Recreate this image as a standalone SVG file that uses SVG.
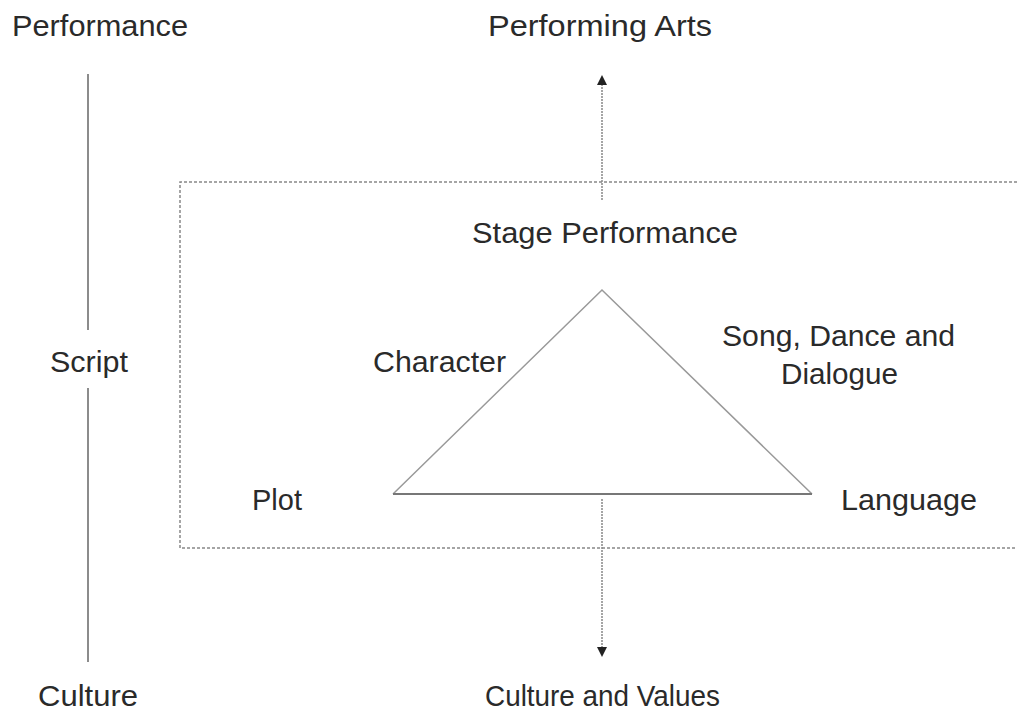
<svg xmlns="http://www.w3.org/2000/svg" width="1017" height="711" viewBox="0 0 1017 711">
<style>
text{font-family:"Liberation Sans",Arial,sans-serif;font-size:29px;fill:#2a2a2a}
.ln{stroke:#666;stroke-width:1.5;fill:none}
.tri{stroke:#999;stroke-width:1.5;fill:none}
.base{stroke:#777;stroke-width:2;fill:none}
.dash{stroke:#888;stroke-width:1.5;fill:none;stroke-dasharray:3 2}
.arr{stroke:#888;stroke-width:1.5;fill:none;stroke-dasharray:2 1}
</style>
<defs>
<marker id="ah" viewBox="0 0 10 10" refX="5" refY="5" markerWidth="10" markerHeight="10" markerUnits="userSpaceOnUse" orient="auto">
<path d="M0,0 L10,5 L0,10 Z" fill="#222"/>
</marker>
</defs>
<g id="axis">
<g id="n-performance"><text x="12" y="36" textLength="176" lengthAdjust="spacingAndGlyphs">Performance</text></g>
<g id="n-script"><text x="50" y="372" textLength="78" lengthAdjust="spacingAndGlyphs">Script</text></g>
<g id="n-culture"><text x="38" y="706" textLength="100" lengthAdjust="spacingAndGlyphs">Culture</text></g>
</g>
<g id="n-box"><path class="dash" d="M1017,182 H180 V548 H1017"/></g>
<g id="n-performing-arts"><text x="488" y="36" textLength="224" lengthAdjust="spacingAndGlyphs">Performing Arts</text></g>
<g id="n-stage"><text x="472" y="243" textLength="266" lengthAdjust="spacingAndGlyphs">Stage Performance</text></g>
<g id="n-triangle">
<path class="tri" d="M393,494 L602,290 L812,494"/>
<path class="base" d="M393,494 H812"/>
</g>
<g id="n-character"><text x="373" y="372" textLength="133" lengthAdjust="spacingAndGlyphs">Character</text></g>
<g id="n-song"><text x="722" y="346" textLength="233" lengthAdjust="spacingAndGlyphs">Song, Dance and</text><text x="781" y="384" textLength="117" lengthAdjust="spacingAndGlyphs">Dialogue</text></g>
<g id="n-plot"><text x="252" y="510">Plot</text></g>
<g id="n-language"><text x="841" y="510" textLength="136" lengthAdjust="spacingAndGlyphs">Language</text></g>
<g id="n-culture-values"><text x="485" y="706" textLength="235" lengthAdjust="spacingAndGlyphs">Culture and Values</text></g>
<g id="connectors">
<path class="ln" d="M88,74 V330"/>
<path class="ln" d="M88,388 V662"/>
<path class="arr" d="M602,200 V80" marker-end="url(#ah)"/>
<path class="arr" d="M602,499 V652" marker-end="url(#ah)"/>
</g>
</svg>
